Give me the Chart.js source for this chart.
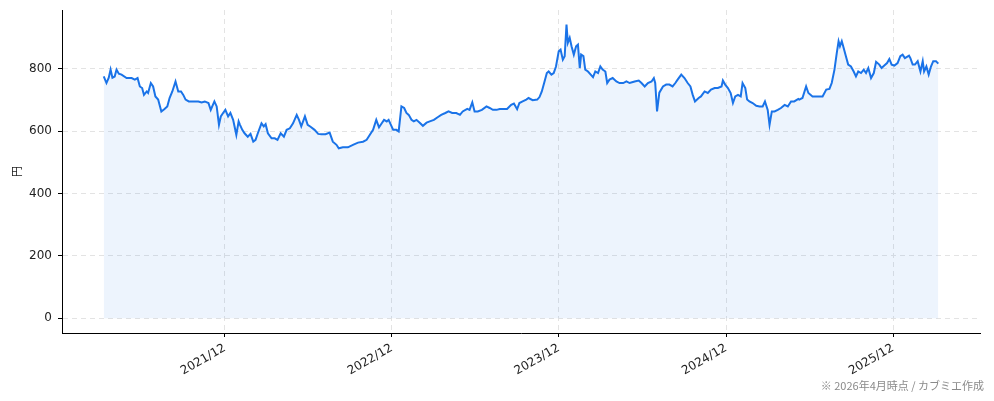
<!DOCTYPE html>
<html lang="ja">
<head>
  <meta charset="UTF-8">
  <title>株価推移</title>
  <script src="https://cdn.jsdelivr.net/npm/chart.js"></script>
  <style>
    html, body {
      margin: 0;
      padding: 0;
      background: #fff;
    }
    .wrap {
      position: relative;
      width: 994px;
      height: 401px;
    }
    .note {
      position: absolute;
      right: 10px;
      top: 377px;
      font-family: "Noto Sans CJK JP", "Noto Sans", sans-serif;
      font-size: 11px;
      color: #8a8a8a;
      white-space: nowrap;
    }
  </style>
</head>
<body>
  <div class="wrap">
    <canvas id="myChart" width="994" height="401"></canvas>
    <div class="note">※ 2026年4月時点 / カブミエ作成</div>
  </div>

  <script>
    // 終値（円）: 日付と値を画像から読み取り
    const dates = [
      '2021-03-11','2021-03-17','2021-03-22','2021-03-26','2021-03-30','2021-04-04','2021-04-08','2021-04-13','2021-04-19','2021-04-30',
      '2021-05-11','2021-05-18','2021-05-24','2021-05-29','2021-06-03','2021-06-07','2021-06-13','2021-06-16','2021-06-22','2021-06-27',
      '2021-07-02','2021-07-08','2021-07-15','2021-07-22','2021-07-28','2021-08-02','2021-08-08','2021-08-15','2021-08-21','2021-08-27',
      '2021-09-01','2021-09-06','2021-09-13','2021-09-22','2021-10-04','2021-10-11','2021-10-18','2021-10-26','2021-10-31','2021-11-08',
      '2021-11-13','2021-11-18','2021-11-22','2021-11-27','2021-12-02','2021-12-08','2021-12-13','2021-12-19','2021-12-26','2021-12-31',
      '2022-01-03','2022-01-08','2022-01-13','2022-01-20','2022-01-26','2022-02-01','2022-02-06','2022-02-11','2022-02-19','2022-02-24',
      '2022-02-28','2022-03-05','2022-03-13','2022-03-20','2022-03-26','2022-04-02','2022-04-09','2022-04-15','2022-04-22','2022-04-29',
      '2022-05-07','2022-05-12','2022-05-17','2022-05-25','2022-05-31','2022-06-07','2022-06-15','2022-06-23','2022-06-30','2022-07-09',
      '2022-07-18','2022-07-25','2022-08-02','2022-08-07','2022-08-16','2022-08-27','2022-09-07','2022-09-18','2022-09-29','2022-10-07',
      '2022-10-14','2022-10-21','2022-10-28','2022-11-03','2022-11-09','2022-11-14','2022-11-20','2022-11-24','2022-11-29','2022-12-04',
      '2022-12-11','2022-12-16','2022-12-22','2022-12-28','2023-01-02','2023-01-07','2023-01-13','2023-01-18','2023-01-24','2023-01-31',
      '2023-02-07','2023-02-15','2023-02-22','2023-03-03','2023-03-12','2023-03-19','2023-03-28','2023-04-04','2023-04-12','2023-04-21',
      '2023-04-29','2023-05-05','2023-05-15','2023-05-20','2023-05-26','2023-05-31','2023-06-07','2023-06-16','2023-06-26','2023-07-03',
      '2023-07-10','2023-07-18','2023-07-25','2023-08-03','2023-08-10','2023-08-19','2023-08-25','2023-09-01','2023-09-06','2023-09-13',
      '2023-09-21','2023-09-26','2023-10-05','2023-10-15','2023-10-20','2023-10-25','2023-10-31','2023-11-05','2023-11-09','2023-11-15',
      '2023-11-20','2023-11-25','2023-12-01','2023-12-05','2023-12-10','2023-12-14','2023-12-18','2023-12-21','2023-12-25','2023-12-29',
      '2024-01-03','2024-01-08','2024-01-12','2024-01-16','2024-01-19','2024-01-24','2024-01-28','2024-02-03','2024-02-09','2024-02-14',
      '2024-02-19','2024-02-25','2024-03-01','2024-03-06','2024-03-12','2024-03-16','2024-03-21','2024-03-28','2024-04-05','2024-04-12',
      '2024-04-20','2024-04-27','2024-05-04','2024-05-15','2024-05-24','2024-05-30','2024-06-06','2024-06-13','2024-06-21','2024-06-26',
      '2024-06-29','2024-07-03','2024-07-08','2024-07-16','2024-07-23','2024-07-30','2024-08-06','2024-08-12','2024-08-17','2024-08-25',
      '2024-09-01','2024-09-08','2024-09-14','2024-09-19','2024-09-24','2024-10-02','2024-10-07','2024-10-15','2024-10-22','2024-10-29',
      '2024-11-06','2024-11-13','2024-11-21','2024-11-24','2024-11-29','2024-12-05','2024-12-11','2024-12-16','2024-12-21','2024-12-27',
      '2025-01-02','2025-01-06','2025-01-12','2025-01-16','2025-01-21','2025-01-28','2025-02-05','2025-02-12','2025-02-19','2025-02-24',
      '2025-03-02','2025-03-06','2025-03-11','2025-03-17','2025-03-24','2025-03-31','2025-04-08','2025-04-15','2025-04-22','2025-04-29',
      '2025-05-08','2025-05-10','2025-05-17','2025-05-25','2025-05-30','2025-06-08','2025-06-19','2025-06-30','2025-07-08','2025-07-15',
      '2025-07-20','2025-07-26','2025-07-31','2025-08-04','2025-08-07','2025-08-11','2025-08-15','2025-08-20','2025-08-25','2025-08-31',
      '2025-09-06','2025-09-11','2025-09-16','2025-09-22','2025-09-28','2025-10-03','2025-10-08','2025-10-14','2025-10-20','2025-10-25',
      '2025-11-01','2025-11-06','2025-11-12','2025-11-18','2025-11-23','2025-11-28','2025-12-04','2025-12-11','2025-12-17','2025-12-22',
      '2025-12-27','2026-01-05','2026-01-08','2026-01-13','2026-01-18','2026-01-24','2026-01-30','2026-02-04','2026-02-07','2026-02-12',
      '2026-02-17','2026-02-22','2026-02-27','2026-03-05','2026-03-10'
    ];
    const prices = [
      775, 754, 771, 797, 771, 775, 797, 784, 781, 770,
      770, 765, 770, 743, 738, 716, 727, 722, 754, 743,
      711, 701, 663, 671, 679, 706, 727, 759, 727, 727,
      716, 701, 695, 695, 695, 692, 695, 690, 668, 695,
      679, 620, 647, 658, 668, 647, 658, 636, 588, 631,
      620, 604, 593, 582, 591, 566, 572, 593, 625, 615,
      622, 593, 577, 577, 572, 593, 582, 604, 609, 625,
      652, 636, 615, 647, 620, 613, 604, 591, 590, 590,
      595, 566, 556, 545, 548, 548, 556, 563, 566, 572,
      588, 604, 636, 612, 625, 636, 631, 636, 620, 604,
      604, 599, 679, 674, 658, 652, 636, 631, 636, 627,
      617, 627, 631, 636, 645, 652, 658, 663, 658, 658,
      652, 663, 671, 668, 692, 663, 663, 668, 679, 674,
      668, 668, 671, 671, 671, 684, 688, 670, 690, 695,
      701, 706, 699, 701, 709, 727, 759, 786, 791, 781,
      786, 807, 856, 861, 829, 840, 941, 883, 899, 872,
      845, 872, 877, 802, 845, 840, 797, 791, 781, 773,
      791, 786, 807, 797, 791, 754, 765, 770, 759, 754,
      754, 759, 754, 759, 762, 754, 743, 754, 759, 770,
      754, 663, 723, 743, 749, 749, 743, 754, 765, 781,
      770, 754, 743, 716, 695, 706, 711, 727, 722, 733,
      738, 738, 743, 762, 749, 738, 722, 690, 711, 716,
      711, 754, 738, 701, 695, 690, 681, 679, 679, 695,
      668, 620, 663, 663, 668, 674, 684, 679, 695, 695,
      703, 701, 706, 743, 722, 711, 711, 711, 733, 735,
      754, 797, 850, 888, 872, 888, 867, 840, 813, 807,
      791, 775, 791, 786, 797, 786, 802, 770, 786, 822,
      813, 802, 810, 818, 831, 813, 810, 818, 840, 845,
      834, 842, 834, 813, 813, 824, 791, 824, 791, 807,
      781, 807, 824, 824, 816
    ];

    const yTicks = [0, 200, 400, 600, 800];
    const xTicks = ['2021-12-01', '2022-12-01', '2023-12-01', '2024-12-01', '2025-12-01'];
    const yLabel = '円';

    const points = dates.map((d, i) => ({ x: Date.parse(d), y: prices[i] }));
    const first = points[0].x;
    const last = points[points.length - 1].x;
    const span = last - first;
    const tickFont = '"DejaVu Sans", sans-serif';
    const cjkFont = '"Noto Sans CJK JP", "Noto Sans", sans-serif';

    function fmtDate(ms) {
      const d = new Date(ms);
      return d.getUTCFullYear() + '/' + (d.getUTCMonth() + 1);
    }

    new Chart(document.getElementById('myChart'), {
      type: 'line',
      data: {
        datasets: [{
          data: points,
          borderColor: '#1a73e8',
          borderWidth: 2,
          backgroundColor: 'rgba(26, 115, 232, 0.08)',
          fill: 'origin',
          pointRadius: 0,
          tension: 0
        }]
      },
      options: {
        responsive: false,
        animation: false,
        devicePixelRatio: 1,
        layout: { padding: { left: 0, right: 14, top: 10, bottom: 0 } },
        plugins: {
          legend: { display: false },
          tooltip: { enabled: false }
        },
        scales: {
          x: {
            type: 'linear',
            min: first - span * 0.05,
            max: last + span * 0.05,
            afterBuildTicks: (scale) => {
              scale.ticks = xTicks.map(t => ({ value: Date.parse(t) }));
            },
            afterFit: (scale) => {
              scale.height = 68;
              scale.paddingLeft = 0;
              scale.paddingRight = 0;
            },
            ticks: {
              callback: (v) => fmtDate(v),
              maxRotation: 30,
              minRotation: 30,
              autoSkip: false,
              padding: 4,
              color: '#222',
              font: { family: tickFont, size: 12 }
            },
            grid: {
              color: '#e3e3e3',
              lineWidth: 1,
              tickColor: '#000',
              tickLength: 4,
              tickBorderDash: []
            },
            border: { display: true, color: '#000', width: 1, dash: [5, 4] }
          },
          y: {
            min: -47,
            max: 988,
            afterBuildTicks: (scale) => {
              scale.ticks = yTicks.map(v => ({ value: v }));
            },
            afterFit: (scale) => {
              scale.width = 62;
              scale.paddingTop = 0;
              scale.paddingBottom = 0;
            },
            ticks: {
              padding: 6,
              color: '#222',
              font: { family: tickFont, size: 12 }
            },
            grid: {
              color: '#e3e3e3',
              lineWidth: 1,
              tickColor: '#000',
              tickLength: 4,
              tickBorderDash: []
            },
            border: { display: true, color: '#000', width: 1, dash: [5, 4] },
            title: {
              display: true,
              text: yLabel,
              color: '#222',
              padding: { top: 10, bottom: 0 },
              font: { family: cjkFont, size: 11 }
            }
          }
        }
      }
    });
  </script>
</body>
</html>
